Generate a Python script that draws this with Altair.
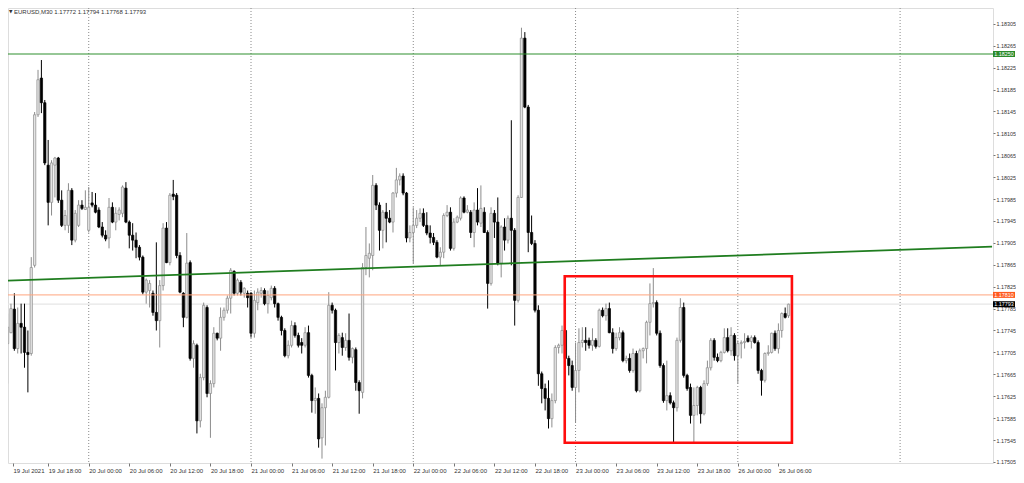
import altair as alt
import pandas as pd

# ---------------- data (EURUSD M30) ----------------
opens = [1.17721, 1.17741, 1.17784, 1.17712, 1.17758, 1.17751, 1.17705, 1.17703, 1.17864, 1.18139,
         1.18206, 1.18161, 1.18047, 1.17979, 1.18047, 1.18060, 1.17983, 1.17937, 1.17937, 1.18001,
         1.17910, 1.17937, 1.17974, 1.17966, 1.17928, 1.17978, 1.17974, 1.17965, 1.17934, 1.17919,
         1.17914, 1.17970, 1.17943, 1.17957, 1.17959, 1.18005, 1.17943, 1.17919, 1.17910, 1.17897,
         1.17879, 1.17815, 1.17818, 1.17813, 1.17778, 1.17763, 1.17827, 1.17932, 1.17869, 1.17994,
         1.17992, 1.17882, 1.17813, 1.17769, 1.17869, 1.17694, 1.17718, 1.17580, 1.17659, 1.17787,
         1.17630, 1.17648, 1.17740, 1.17731, 1.17769, 1.17782, 1.17804, 1.17853, 1.17813, 1.17833,
         1.17813, 1.17813, 1.17813, 1.17740, 1.17796, 1.17813, 1.17818, 1.17794, 1.17805, 1.17822,
         1.17794, 1.17769, 1.17745, 1.17699, 1.17718, 1.17754, 1.17736, 1.17723, 1.17718, 1.17741,
         1.17663, 1.17617, 1.17621, 1.17549, 1.17604, 1.17623, 1.17791, 1.17782, 1.17723, 1.17732,
         1.17714, 1.17727, 1.17696, 1.17710, 1.17650, 1.17632, 1.17860, 1.17877, 1.17882, 1.18010,
         1.17974, 1.17928, 1.17961, 1.17950, 1.17943, 1.17996, 1.18020, 1.18027, 1.17996, 1.17914,
         1.17924, 1.17937, 1.17950, 1.17959, 1.17937, 1.17923, 1.17915, 1.17906, 1.17879, 1.17888,
         1.17955, 1.17961, 1.17895, 1.17943, 1.17950, 1.17987, 1.17961, 1.17961, 1.17924, 1.17965,
         1.17941, 1.17961, 1.17924, 1.17831, 1.17959, 1.17943, 1.17868, 1.17934, 1.17910, 1.17950,
         1.17928, 1.17800, 1.17988, 1.18279, 1.18153, 1.17924, 1.17904, 1.17782, 1.17666, 1.17639,
         1.17621, 1.17584, 1.17617, 1.17714, 1.17718, 1.17745, 1.17694, 1.17681, 1.17641, 1.17672,
         1.17723, 1.17727, 1.17727, 1.17718, 1.17727, 1.17716, 1.17782, 1.17772, 1.17785, 1.17741,
         1.17712, 1.17732, 1.17741, 1.17690, 1.17694, 1.17672, 1.17703, 1.17635, 1.17708, 1.17712,
         1.17760, 1.17794, 1.17796, 1.17740, 1.17681, 1.17617, 1.17626, 1.17613, 1.17604, 1.17727,
         1.17787, 1.17663, 1.17641, 1.17590, 1.17608, 1.17641, 1.17593, 1.17648, 1.17677, 1.17727,
         1.17696, 1.17690, 1.17705, 1.17732, 1.17708, 1.17736, 1.17699, 1.17721, 1.17723, 1.17731,
         1.17725, 1.17732, 1.17723, 1.17672, 1.17654, 1.17703, 1.17705, 1.17740, 1.17712, 1.17745,
         1.17776, 1.17772]
highs = [1.17776, 1.17794, 1.17813, 1.17787, 1.17794, 1.17794, 1.17745, 1.17879, 1.18144, 1.18221,
         1.18239, 1.18166, 1.18093, 1.18056, 1.18062, 1.18062, 1.18001, 1.17965, 1.18014, 1.18005,
         1.17965, 1.17983, 1.17983, 1.18001, 1.18007, 1.17998, 1.17996, 1.17970, 1.17943, 1.17928,
         1.17987, 1.17979, 1.17970, 1.17970, 1.18010, 1.18016, 1.17946, 1.17941, 1.17924, 1.17901,
         1.17882, 1.17840, 1.17837, 1.17818, 1.17906, 1.17837, 1.17941, 1.17943, 1.17996, 1.18020,
         1.17996, 1.17888, 1.17815, 1.17923, 1.17873, 1.17727, 1.17721, 1.17666, 1.17796, 1.17791,
         1.17654, 1.17751, 1.17741, 1.17787, 1.17787, 1.17809, 1.17859, 1.17855, 1.17840, 1.17837,
         1.17824, 1.17818, 1.17815, 1.17818, 1.17822, 1.17824, 1.17822, 1.17818, 1.17827, 1.17826,
         1.17796, 1.17772, 1.17749, 1.17727, 1.17763, 1.17760, 1.17741, 1.17731, 1.17751, 1.17754,
         1.17666, 1.17641, 1.17630, 1.17612, 1.17635, 1.17815, 1.17796, 1.17785, 1.17740, 1.17741,
         1.17740, 1.17776, 1.17714, 1.17714, 1.17654, 1.17868, 1.17934, 1.17904, 1.18029, 1.18014,
         1.17979, 1.17965, 1.17978, 1.17965, 1.17998, 1.18042, 1.18032, 1.18032, 1.17998, 1.17937,
         1.17970, 1.17965, 1.17968, 1.17968, 1.17961, 1.17937, 1.17923, 1.17910, 1.17897, 1.17959,
         1.17974, 1.17970, 1.17950, 1.17955, 1.17990, 1.17990, 1.17974, 1.17965, 1.17979, 1.18005,
         1.18010, 1.17970, 1.17928, 1.17970, 1.17965, 1.17988, 1.17937, 1.17950, 1.17955, 1.18129,
         1.17932, 1.17992, 1.18298, 1.18290, 1.18157, 1.17955, 1.17910, 1.17791, 1.17670, 1.17648,
         1.17654, 1.17630, 1.17718, 1.17721, 1.17754, 1.17749, 1.17699, 1.17690, 1.17723, 1.17749,
         1.17751, 1.17751, 1.17732, 1.17749, 1.17731, 1.17785, 1.17787, 1.17794, 1.17796, 1.17749,
         1.17741, 1.17751, 1.17745, 1.17699, 1.17703, 1.17712, 1.17708, 1.17712, 1.17714, 1.17763,
         1.17831, 1.17859, 1.17800, 1.17745, 1.17685, 1.17690, 1.17632, 1.17617, 1.17732, 1.17804,
         1.17796, 1.17666, 1.17648, 1.17641, 1.17644, 1.17644, 1.17654, 1.17690, 1.17731, 1.17731,
         1.17703, 1.17708, 1.17749, 1.17749, 1.17751, 1.17740, 1.17727, 1.17727, 1.17740, 1.17736,
         1.17736, 1.17736, 1.17727, 1.17675, 1.17705, 1.17718, 1.17741, 1.17745, 1.17758, 1.17778,
         1.17787, 1.17794]
lows = [1.17648, 1.17740, 1.17708, 1.17703, 1.17703, 1.17677, 1.17632, 1.17699, 1.17860, 1.18135,
        1.18142, 1.18047, 1.17937, 1.17955, 1.17988, 1.17978, 1.17934, 1.17928, 1.17923, 1.17901,
        1.17906, 1.17934, 1.17965, 1.17965, 1.17924, 1.17970, 1.17959, 1.17932, 1.17915, 1.17908,
        1.17895, 1.17941, 1.17928, 1.17946, 1.17952, 1.17941, 1.17895, 1.17891, 1.17877, 1.17873,
        1.17811, 1.17794, 1.17787, 1.17772, 1.17745, 1.17714, 1.17818, 1.17868, 1.17864, 1.17983,
        1.17877, 1.17813, 1.17751, 1.17767, 1.17690, 1.17677, 1.17557, 1.17568, 1.17654, 1.17623,
        1.17549, 1.17641, 1.17727, 1.17708, 1.17763, 1.17776, 1.17776, 1.17809, 1.17809, 1.17809,
        1.17805, 1.17787, 1.17732, 1.17732, 1.17782, 1.17805, 1.17791, 1.17776, 1.17800, 1.17787,
        1.17763, 1.17736, 1.17696, 1.17694, 1.17714, 1.17732, 1.17714, 1.17703, 1.17714, 1.17659,
        1.17595, 1.17593, 1.17531, 1.17511, 1.17535, 1.17621, 1.17776, 1.17672, 1.17703, 1.17699,
        1.17708, 1.17690, 1.17685, 1.17635, 1.17593, 1.17621, 1.17846, 1.17842, 1.17855, 1.17965,
        1.17891, 1.17895, 1.17906, 1.17941, 1.17924, 1.17988, 1.18010, 1.17992, 1.17906, 1.17906,
        1.17868, 1.17932, 1.17943, 1.17934, 1.17919, 1.17904, 1.17901, 1.17877, 1.17864, 1.17877,
        1.17952, 1.17891, 1.17891, 1.17941, 1.17946, 1.17959, 1.17959, 1.17914, 1.17897, 1.17937,
        1.17934, 1.17923, 1.17785, 1.17827, 1.17914, 1.17864, 1.17842, 1.17891, 1.17904, 1.17864,
        1.17754, 1.17796, 1.17987, 1.18151, 1.17888, 1.17901, 1.17778, 1.17644, 1.17612, 1.17599,
        1.17566, 1.17568, 1.17612, 1.17703, 1.17703, 1.17690, 1.17663, 1.17635, 1.17577, 1.17632,
        1.17714, 1.17708, 1.17712, 1.17708, 1.17712, 1.17714, 1.17769, 1.17763, 1.17740, 1.17703,
        1.17708, 1.17727, 1.17687, 1.17685, 1.17668, 1.17668, 1.17632, 1.17632, 1.17694, 1.17685,
        1.17736, 1.17787, 1.17736, 1.17677, 1.17613, 1.17599, 1.17610, 1.17538, 1.17597, 1.17723,
        1.17659, 1.17635, 1.17575, 1.17540, 1.17590, 1.17575, 1.17590, 1.17644, 1.17672, 1.17690,
        1.17687, 1.17687, 1.17703, 1.17705, 1.17699, 1.17690, 1.17648, 1.17694, 1.17712, 1.17723,
        1.17712, 1.17721, 1.17666, 1.17626, 1.17650, 1.17699, 1.17703, 1.17708, 1.17703, 1.17732,
        1.17767, 1.17768]
closes = [1.17751, 1.17785, 1.17712, 1.17758, 1.17751, 1.17705, 1.17701, 1.17860, 1.18139, 1.18203,
          1.18161, 1.18051, 1.17979, 1.18051, 1.18060, 1.17983, 1.17937, 1.17955, 1.18001, 1.17910,
          1.17959, 1.17974, 1.17968, 1.17970, 1.17970, 1.17974, 1.17961, 1.17934, 1.17919, 1.17912,
          1.17970, 1.17943, 1.17959, 1.17965, 1.18007, 1.17943, 1.17919, 1.17910, 1.17897, 1.17879,
          1.17815, 1.17837, 1.17831, 1.17778, 1.17763, 1.17827, 1.17932, 1.17869, 1.17992, 1.17990,
          1.17882, 1.17815, 1.17769, 1.17868, 1.17694, 1.17721, 1.17580, 1.17659, 1.17791, 1.17630,
          1.17648, 1.17740, 1.17731, 1.17769, 1.17782, 1.17804, 1.17855, 1.17813, 1.17837, 1.17815,
          1.17822, 1.17805, 1.17740, 1.17800, 1.17815, 1.17818, 1.17794, 1.17809, 1.17822, 1.17794,
          1.17769, 1.17745, 1.17699, 1.17718, 1.17754, 1.17736, 1.17718, 1.17718, 1.17741, 1.17663,
          1.17617, 1.17621, 1.17547, 1.17604, 1.17623, 1.17791, 1.17782, 1.17723, 1.17736, 1.17714,
          1.17727, 1.17696, 1.17712, 1.17650, 1.17635, 1.17860, 1.17882, 1.17886, 1.18010, 1.17974,
          1.17928, 1.17961, 1.17950, 1.17943, 1.17996, 1.18020, 1.18027, 1.17996, 1.17914, 1.17924,
          1.17937, 1.17950, 1.17959, 1.17937, 1.17923, 1.17915, 1.17906, 1.17879, 1.17888, 1.17955,
          1.17961, 1.17895, 1.17943, 1.17952, 1.17987, 1.17961, 1.17965, 1.17924, 1.17965, 1.17943,
          1.17968, 1.17924, 1.17831, 1.17959, 1.17943, 1.17868, 1.17934, 1.17910, 1.17950, 1.17928,
          1.17800, 1.17988, 1.18279, 1.18153, 1.17924, 1.17904, 1.17782, 1.17666, 1.17639, 1.17621,
          1.17584, 1.17617, 1.17714, 1.17718, 1.17745, 1.17694, 1.17681, 1.17641, 1.17672, 1.17723,
          1.17727, 1.17723, 1.17718, 1.17727, 1.17716, 1.17782, 1.17772, 1.17785, 1.17741, 1.17712,
          1.17732, 1.17741, 1.17690, 1.17694, 1.17672, 1.17703, 1.17635, 1.17708, 1.17712, 1.17760,
          1.17794, 1.17796, 1.17740, 1.17681, 1.17617, 1.17626, 1.17613, 1.17604, 1.17727, 1.17787,
          1.17663, 1.17639, 1.17590, 1.17608, 1.17641, 1.17593, 1.17648, 1.17677, 1.17727, 1.17696,
          1.17690, 1.17705, 1.17732, 1.17708, 1.17736, 1.17699, 1.17721, 1.17723, 1.17725, 1.17725,
          1.17732, 1.17723, 1.17672, 1.17654, 1.17703, 1.17705, 1.17740, 1.17712, 1.17745, 1.17776,
          1.17769, 1.17793]

# first label sits at the left edge of the visible window, as in the terminal
x_ticks = [1.6, 12, 24, 36, 48, 60, 72, 84, 96, 108, 120, 132, 144, 156, 168, 180, 192, 204, 216, 228]
x_labels = ["19 Jul 2021", "19 Jul 18:00", "20 Jul 00:00", "20 Jul 06:00", "20 Jul 12:00",
            "20 Jul 18:00", "21 Jul 00:00", "21 Jul 06:00", "21 Jul 12:00", "21 Jul 18:00",
            "22 Jul 00:00", "22 Jul 06:00", "22 Jul 12:00", "22 Jul 18:00", "23 Jul 00:00",
            "23 Jul 06:00", "23 Jul 12:00", "23 Jul 18:00", "26 Jul 00:00", "26 Jul 06:00"]
day_lines = [24, 72, 120, 168, 216, 264]
price_ticks = [1.17505, 1.17545, 1.17585, 1.17625, 1.17665, 1.17705, 1.17745, 1.17785, 1.17825,
               1.17865, 1.17905, 1.17945, 1.17985, 1.18025, 1.18065, 1.18105, 1.18145, 1.18185,
               1.18225, 1.18265, 1.18305]

resistance_level = [1.18250]
hline_level = [1.17810]
bid_level = [1.17793]
trend_bars = [-0.15, 291.2]
trend_prices = [1.17836, 1.17898]
box_bars = [164.8, 232.0]
box_prices = [1.17540, 1.17844]
tag_prices = [1.18250, 1.17810, 1.17793]
tag_colors = ["#2a8a2a", "#ff5a1e", "#000000"]

# ---------------- chart ----------------
FONT = "Liberation Sans"
FS = 6          # header and time axis
FS_R = 5.4      # price axis and price tags (must fit inside the right margin)
W, H = 985, 455
TAG_X = W + 11
xs = alt.Scale(domain=[1.6, 290.0], nice=False, zero=False)
ys = alt.Scale(domain=[1.17503, 1.18334], nice=False, zero=False)

df = pd.DataFrame({"bar": list(range(len(closes))), "open": opens, "high": highs,
                   "low": lows, "close": closes})
df["dir"] = ["up" if c >= o else "down" for o, c in zip(opens, closes)]

label_js = "[" + ",".join("'%s'" % s for s in x_labels) + "]"
ticks_js = "[" + ",".join(str(t) for t in x_ticks) + "]"
xaxis = alt.Axis(values=x_ticks, labelExpr=label_js + "[indexof(" + ticks_js + ", datum.value)]",
                 labelAlign="left", labelBaseline="top", labelFont=FONT, labelFontSize=FS,
                 labelColor="#333333", labelPadding=1, tickSize=3, tickColor="#777777",
                 domain=False, grid=False, labelOverlap=False, labelFlush=False, labelBound=False,
                 title=None)
yaxis = alt.Axis(values=price_ticks, format=".5f", orient="right", labelFont=FONT,
                 labelFontSize=FS_R, labelColor="#333333", labelPadding=1, tickSize=2,
                 tickColor="#777777", domain=False, grid=False, labelOverlap=False,
                 labelFlush=False, title=None)


def X(field):
    return alt.X(field, scale=xs, axis=xaxis)


def Y(field):
    return alt.Y(field, scale=ys, axis=yaxis)


grid = alt.Chart(pd.DataFrame({"bar": day_lines})).mark_rule(
    color="#8a8a8a", strokeDash=[1, 2], strokeWidth=1).encode(x=X("bar:Q"))

bid = alt.Chart(pd.DataFrame({"price": bid_level})).mark_rule(
    color="#e6e6e6", strokeWidth=1.2).encode(y=Y("price:Q"))

dir_scale_line = alt.Scale(domain=["up", "down"], range=["#8c8c8c", "#000000"])
dir_scale_fill = alt.Scale(domain=["up", "down"], range=["#e4e4e4", "#000000"])

wicks = alt.Chart(df).mark_rule(strokeWidth=1, clip=True).encode(
    x=X("bar:Q"), y=Y("low:Q"), y2="high:Q",
    stroke=alt.Stroke("dir:N", scale=dir_scale_line, legend=None))

bodies = alt.Chart(df).mark_bar(width=2.3, strokeWidth=0.7, clip=True).encode(
    x=X("bar:Q"), y=Y("open:Q"), y2="close:Q",
    fill=alt.Fill("dir:N", scale=dir_scale_fill, legend=None),
    stroke=alt.Stroke("dir:N", scale=dir_scale_line, legend=None))

hline = alt.Chart(pd.DataFrame({"price": hline_level})).mark_rule(
    color="#ffa47e", strokeWidth=1).encode(y=Y("price:Q"))

resist = alt.Chart(pd.DataFrame({"price": resistance_level})).mark_rule(
    color="#2f8f2f", strokeWidth=1.1).encode(y=Y("price:Q"))

trend = alt.Chart(pd.DataFrame({"bar": trend_bars, "price": trend_prices})).mark_line(
    color="#1f7d1f", strokeWidth=1.8, clip=True).encode(x=X("bar:Q"), y=Y("price:Q"))

box = alt.Chart(pd.DataFrame({"x1": [box_bars[0]], "x2": [box_bars[1]],
                              "y1": [box_prices[0]], "y2": [box_prices[1]]})).mark_rect(
    fillOpacity=0, stroke="#ff0d0d", strokeWidth=2.6).encode(
    x=X("x1:Q"), x2="x2:Q", y=Y("y1:Q"), y2="y2:Q")

tags = []
for p, c in zip(tag_prices, tag_colors):
    tdf = pd.DataFrame({"price": [p], "label": ["%.5f" % p]})
    tags.append(alt.Chart(tdf).mark_tick(orient="horizontal", thickness=6, size=22,
                                         color=c, opacity=1).encode(
        x=alt.value(TAG_X), y=Y("price:Q")))
    tags.append(alt.Chart(tdf).mark_text(color="white", font=FONT, fontSize=FS_R,
                                         align="center", baseline="middle").encode(
        x=alt.value(TAG_X), y=Y("price:Q"), text="label:N"))

header_text = "EURUSD,M30  %.5f %.5f %.5f %.5f" % (opens[-1], highs[-1], lows[-1], closes[-1])
header = alt.Chart(pd.DataFrame({"t": [header_text]})).mark_text(
    align="left", baseline="middle", font=FONT, fontSize=FS, color="#333333").encode(
    x=alt.value(6), y=alt.value(4), text="t:N")
tri = alt.Chart(pd.DataFrame({"t": ["\u25BC"]})).mark_text(
    align="left", baseline="middle", font="DejaVu Sans", fontSize=4.5, color="#333333").encode(
    x=alt.value(1), y=alt.value(4), text="t:N")

chart = alt.layer(grid, bid, wicks, bodies, hline, resist, trend, box, *tags, header, tri).properties(
    width=W, height=H, padding={"left": 0, "top": 0, "right": 23, "bottom": 10},
    autosize=alt.AutoSizeParams(type="none")
).configure_view(stroke="#9a9a9a", strokeWidth=1).configure(background="white")

chart.save("out.html", embed_options={"renderer": "svg", "actions": False})
